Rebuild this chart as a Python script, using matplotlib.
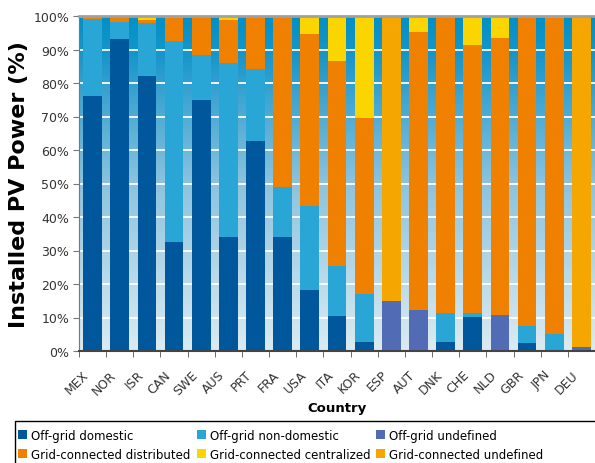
import numpy as np
import matplotlib
matplotlib.use('Agg')
import matplotlib.pyplot as plt
from matplotlib.colors import LinearSegmentedColormap
from matplotlib.patches import Patch, Rectangle
from matplotlib.transforms import ScaledTranslation

countries = ['MEX', 'NOR', 'ISR', 'CAN', 'SWE', 'AUS', 'PRT', 'FRA', 'USA', 'ITA',
             'KOR', 'ESP', 'AUT', 'DNK', 'CHE', 'NLD', 'GBR', 'JPN', 'DEU']

# shares in %
offgrid_domestic = [76.1, 93.1, 82.1, 32.5, 74.9, 34.0, 62.7, 34.0, 18.2, 10.4,
                    2.7, 0, 0, 2.7, 10.1, 0, 2.4, 0, 0]
offgrid_nondomestic = [23.0, 5.1, 15.8, 60.0, 13.5, 52.1, 21.5, 15.0, 25.0, 14.9,
                       14.2, 0, 0, 8.6, 1.2, 0, 5.1, 5.1, 0]
offgrid_undefined = [0, 0, 0, 0, 0, 0, 0, 0, 0, 0,
                     0, 14.9, 12.2, 0, 0, 10.7, 0, 0, 1.2]
grid_distributed = [0.9, 1.8, 1.0, 6.9, 11.6, 12.7, 15.8, 51.0, 51.4, 61.3,
                    52.7, 0, 83.0, 88.7, 80.0, 82.7, 92.5, 94.4, 0]
grid_centralized = [0, 0, 1.1, 0.6, 0, 1.2, 0, 0, 5.4, 13.4,
                    30.4, 0, 4.8, 0, 8.7, 6.6, 0, 0.5, 0]
grid_undefined = [0, 0, 0, 0, 0, 0, 0, 0, 0, 0,
                  0, 85.1, 0, 0, 0, 0, 0, 0, 98.8]

series = [
    ('Off-grid domestic', offgrid_domestic, '#00579b'),
    ('Off-grid non-domestic', offgrid_nondomestic, '#29a5d6'),
    ('Off-grid undefined', offgrid_undefined, '#516bb5'),
    ('Grid-connected distributed', grid_distributed, '#f08100'),
    ('Grid-connected centralized', grid_centralized, '#fbd500'),
    ('Grid-connected undefined', grid_undefined, '#f6a600'),
]

fig = plt.figure(figsize=(5.95, 4.64), dpi=100)
ax = fig.add_axes([79 / 595, 1 - 352 / 464, 1 - 79 / 595, (352 - 17) / 464])

x = np.arange(len(countries))
n = len(countries)

# gradient background
grad = LinearSegmentedColormap.from_list(
    'bg', [(0.0, '#dcebf1'), (0.5, '#8cc3df'), (0.88, '#1996cb'), (1.0, '#0090c6')])
ax.imshow(np.linspace(1, 0, 256).reshape(-1, 1), cmap=grad, aspect='auto',
          extent=(-0.5, n - 0.5, 0, 100), zorder=0, vmin=0, vmax=1)

for v in range(10, 100, 10):
    ax.axhline(v, color='white', lw=1.4, zorder=0.5, alpha=0.9)

bottom = np.zeros(n)
for name, vals, col in series:
    vals = np.array(vals, dtype=float)
    ax.bar(x, vals, 0.69, bottom=bottom, color=col, zorder=2, linewidth=0)
    bottom += vals

ax.set_xlim(-0.5, n - 0.5)
ax.set_ylim(0, 100)

ax.set_yticks(range(0, 101, 10))
ax.set_yticklabels([f'{v}%' for v in range(0, 101, 10)], fontsize=9, color='#333333')
ax.tick_params(axis='y', length=4, color='#777777', pad=3)

ax.set_xticks(x)
ax.set_xticklabels(countries, rotation=45, ha='right', fontsize=9, color='#333333')
ax.set_xticks(np.arange(-0.5, n, 1), minor=True)
ax.tick_params(axis='x', which='major', length=0, pad=12)
ax.tick_params(axis='x', which='minor', length=4, color='#555555')
offset = ScaledTranslation(-1 / 100, 0, fig.dpi_scale_trans)
for lab in ax.get_xticklabels():
    lab.set_transform(lab.get_transform() + offset)

ax.spines['right'].set_visible(False)
ax.spines['top'].set_color('#a0a0a0')
ax.spines['top'].set_linewidth(2)
ax.spines['left'].set_color('#777777')
ax.spines['bottom'].set_color('#444444')
ax.spines['bottom'].set_linewidth(1.5)

ax.set_ylabel('Installed PV Power (%)', fontsize=16, fontweight='bold', labelpad=3)
ax.set_xlabel('Country', fontsize=9.5, fontweight='bold', labelpad=3)

# legend frame (runs past the figure edge like the original)
fig.patches.append(Rectangle((15 / 595, -0.1), 1.0, 0.1 + (464 - 422) / 464,
                             transform=fig.transFigure, fill=False,
                             edgecolor='black', lw=1))

col_x = [14, 193, 372]
for i, cx in enumerate(col_x):
    hs = []
    for name, vals, col in [series[i], series[i + 3]]:
        hs.append(Patch(facecolor=col, edgecolor='none', label=name))
    fig.legend(handles=hs, loc='upper left', bbox_to_anchor=(cx / 595, 1 - 426 / 464),
               frameon=False, fontsize=8.5, handlelength=0.8, handleheight=0.8,
               handletextpad=0.3, labelspacing=0.55, borderaxespad=0, borderpad=0.3)

fig.savefig('out.png', dpi=100)
